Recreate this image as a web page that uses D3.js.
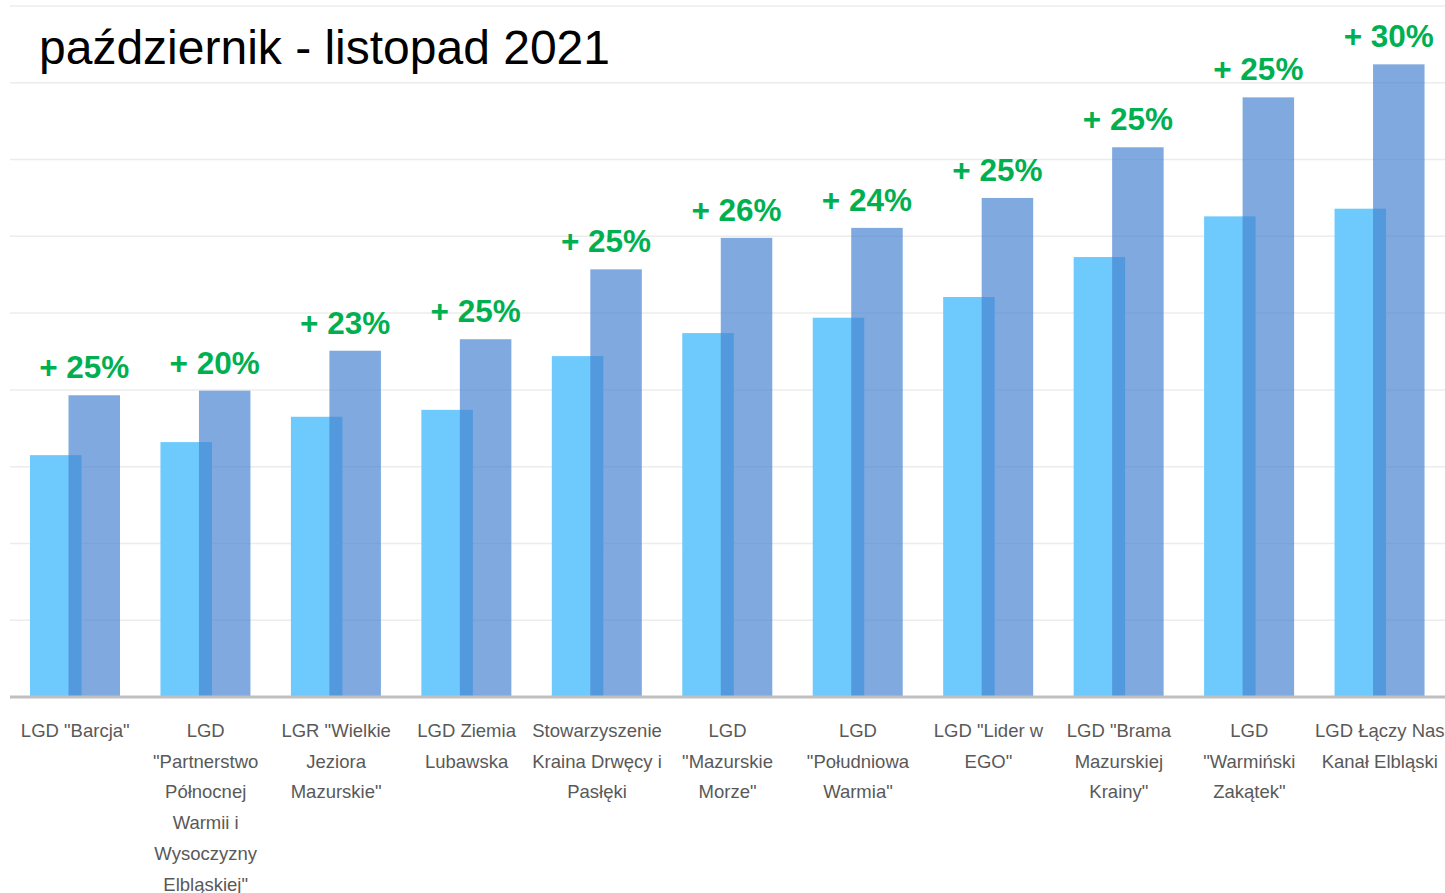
<!DOCTYPE html>
<html>
<head>
<meta charset="utf-8">
<script src="https://cdn.jsdelivr.net/npm/d3@7"></script>
<style>
  html, body { margin: 0; padding: 0; background: #fff; }
  svg { display: block; }
</style>
</head>
<body>
<svg id="chart" width="1445" height="893"></svg>
<script>
const title = "październik - listopad 2021";
const categories = [
  ["LGD \"Barcja\""],
  ["LGD", "\"Partnerstwo", "Północnej", "Warmii i", "Wysoczyzny", "Elbląskiej\""],
  ["LGR \"Wielkie", "Jeziora", "Mazurskie\""],
  ["LGD Ziemia", "Lubawska"],
  ["Stowarzyszenie", "Kraina Drwęcy i", "Pasłęki"],
  ["LGD", "\"Mazurskie", "Morze\""],
  ["LGD", "\"Południowa", "Warmia\""],
  ["LGD \"Lider w", "EGO\""],
  ["LGD \"Brama", "Mazurskiej", "Krainy\""],
  ["LGD", "\"Warmiński", "Zakątek\""],
  ["LGD Łączy Nas", "Kanał Elbląski"]
];
const october  = [3.15, 3.32, 3.65, 3.74, 4.44, 4.74, 4.94, 5.21, 5.73, 6.26, 6.36];
const november = [3.93, 3.99, 4.51, 4.66, 5.57, 5.98, 6.11, 6.50, 7.16, 7.81, 8.24];
const growthLabels = ["+ 25%", "+ 20%", "+ 23%", "+ 25%", "+ 25%", "+ 26%", "+ 24%", "+ 25%", "+ 25%", "+ 25%", "+ 30%"];
const gridTicks = [1, 2, 3, 4, 5, 6, 7, 8, 9];

(function () {
const svg = d3.select("#chart");
const plotLeft = 10, plotRight = 1445, plotTop = 6, baseline = 697;

const x = d3.scaleBand().domain(d3.range(categories.length)).range([plotLeft, plotRight]);
const y = d3.scaleLinear().domain([0, 9]).range([baseline, plotTop]);
const bw = x.bandwidth();

// gridlines
svg.append("g").selectAll("line").data(gridTicks).join("line")
  .attr("x1", plotLeft).attr("x2", plotRight)
  .attr("y1", d => y(d)).attr("y2", d => y(d))
  .attr("stroke", "#ececec").attr("stroke-width", 1.5);

const barW = 51.5;
const octX = i => x(i) + 20;
const novX = i => x(i) + 58.5;

// October bars
svg.append("g").selectAll("rect").data(october).join("rect")
  .attr("x", (d, i) => octX(i)).attr("width", barW)
  .attr("y", d => y(d)).attr("height", d => baseline - y(d))
  .attr("fill", "#6ECAFC");

// November bars (semi-transparent)
svg.append("g").selectAll("rect").data(november).join("rect")
  .attr("x", (d, i) => novX(i)).attr("width", barW)
  .attr("y", d => y(d)).attr("height", d => baseline - y(d))
  .attr("fill", "rgb(70,130,209)").attr("fill-opacity", 0.69);

// baseline axis
svg.append("line").attr("x1", plotLeft).attr("x2", plotRight)
  .attr("y1", baseline).attr("y2", baseline)
  .attr("stroke", "#bfbfbf").attr("stroke-width", 3);

// growth labels
svg.append("g").selectAll("text").data(growthLabels).join("text")
  .attr("x", (d, i) => x(i) + bw / 2 + 9)
  .attr("y", (d, i) => y(november[i]) - 17)
  .attr("text-anchor", "middle")
  .attr("font-family", "Liberation Sans, Arial, sans-serif")
  .attr("font-weight", "bold")
  .attr("font-size", 31.5)
  .attr("fill", "#00B050")
  .text(d => d);

// category labels
const lab = svg.append("g").selectAll("text").data(categories).join("text")
  .attr("text-anchor", "middle")
  .attr("font-family", "Liberation Sans, Arial, sans-serif")
  .attr("font-size", 18.5)
  .attr("fill", "#595959");
lab.each(function (lines, i) {
  const t = d3.select(this);
  lines.forEach((ln, j) => {
    t.append("tspan").attr("x", x(i) + bw / 2).attr("y", 737 + j * 30.7).text(ln);
  });
});

// title
svg.append("text").attr("x", 39).attr("y", 64)
  .attr("font-family", "Liberation Sans, Arial, sans-serif")
  .attr("font-size", 48)
  .attr("fill", "#000")
  .text(title);
})();
</script>
</body>
</html>
